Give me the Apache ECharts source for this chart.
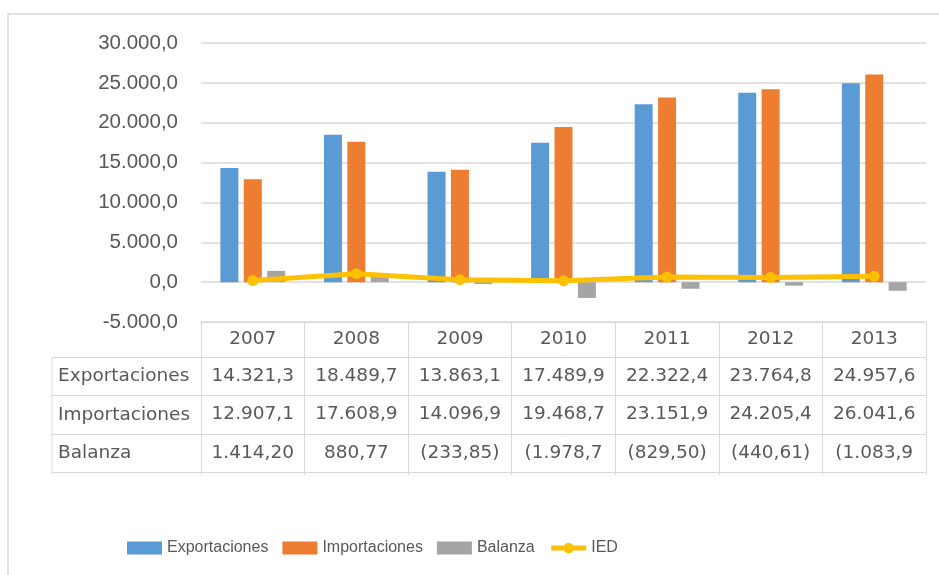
<!DOCTYPE html>
<html>
<head>
<meta charset="utf-8">
<script src="https://cdn.jsdelivr.net/npm/echarts@6/dist/echarts.min.js"></script>
<style>html,body{margin:0;padding:0;background:#fff}#c{width:939px;height:575px}</style>
</head>
<body>
<div id="c"></div>
<script>
const categories = ['2007', '2008', '2009', '2010', '2011', '2012', '2013'];
const exportaciones = [14321.3, 18489.7, 13863.1, 17489.9, 22322.4, 23764.8, 24957.6];
const importaciones = [12907.1, 17608.9, 14096.9, 19468.7, 23151.9, 24205.4, 26041.6];
const balanza = [1414.2, 880.77, -233.85, -1978.8, -829.5, -440.61, -1084.0];
const balanzaLabels = ['1.414,20', '880,77', '(233,85)', '(1.978,7', '(829,50)', '(440,61)', '(1.083,9'];
const ied = [194, 1058, 308, 163, 644, 585, 725];
const rowNames = ['Exportaciones', 'Importaciones', 'Balanza'];
const seriesNames = ['Exportaciones', 'Importaciones', 'Balanza', 'IED'];
const yMin = -5000, yMax = 30000, yStep = 5000;

function fmt(v, d) {
  const neg = v < 0;
  const parts = Math.abs(v).toFixed(d).split('.');
  const int = parts[0].replace(/\B(?=(\d{3})+(?!\d))/g, '.');
  return (neg ? '-' : '') + int + (d > 0 ? ',' + parts[1] : '');
}

const expLabels = exportaciones.map(v => fmt(v, 1));
const impLabels = importaciones.map(v => fmt(v, 1));

const GRID = '#d9d9d9';
const TXT = '#595959';
const TFONT = 'DejaVu Sans';
const TSIZE = 18.5;

function tableAxis(offset, tickLen, labels, margin) {
  return {
    type: 'category', data: categories, position: 'bottom', offset: offset,
    axisLine: { show: true, onZero: false, lineStyle: { color: GRID, width: 1 } },
    axisTick: { show: true, length: tickLen, alignWithLabel: false, lineStyle: { color: GRID, width: 1 } },
    axisLabel: {
      show: !!labels, interval: 0, hideOverlap: false, margin: margin,
      formatter: (v, i) => labels ? labels[i] : '',
      fontFamily: TFONT, fontSize: TSIZE, color: TXT
    },
    splitLine: { show: false }
  };
}

const chart = echarts.init(document.getElementById('c'), null, { renderer: 'canvas' });

const L = 52, gl = 201, gr = 926;
const rowY = [357, 395, 434, 472];

const option = {
  animation: false,
  backgroundColor: '#fff',
  grid: { left: gl, right: 939 - gr, top: 43, bottom: 575 - 322 },
  legend: {
    left: 122, top: 535, itemWidth: 35, itemHeight: 13, itemGap: 14,
    data: [
      { name: seriesNames[0], icon: 'rect' },
      { name: seriesNames[1], icon: 'rect' },
      { name: seriesNames[2], icon: 'rect' },
      { name: seriesNames[3], lineStyle: { width: 5 } }
    ],
    textStyle: { fontFamily: 'Liberation Sans', fontSize: 16, color: TXT }
  },
  xAxis: [
    tableAxis(0, 35, categories, 8),
    tableAxis(35, 38, expLabels, 10),
    tableAxis(73, 39, impLabels, 10),
    tableAxis(112, 38, balanzaLabels, 10),
    tableAxis(150, 3, null, 0)
  ],
  yAxis: {
    type: 'value', min: yMin, max: yMax, interval: yStep,
    axisLine: { show: false }, axisTick: { show: false },
    axisLabel: { margin: 23, formatter: v => fmt(v, 1), fontFamily: 'Liberation Sans', fontSize: 20.5, color: TXT },
    splitLine: { lineStyle: { color: GRID, width: 1.5 } }
  },
  series: [
    { name: 'Exportaciones', type: 'bar', data: exportaciones, barWidth: 18, barGap: '30%', itemStyle: { color: '#5B9BD5' } },
    { name: 'Importaciones', type: 'bar', data: importaciones, barWidth: 18, barGap: '30%', itemStyle: { color: '#ED7D31' } },
    { name: 'Balanza', type: 'bar', data: balanza, barWidth: 18, barGap: '30%', itemStyle: { color: '#A5A5A5' } },
    { name: 'IED', type: 'line', data: ied, z: 5, symbol: 'circle', symbolSize: 11,
      lineStyle: { color: '#FFC000', width: 5 }, itemStyle: { color: '#FFC000' } }
  ],
  graphic: [
    { type: 'polyline', shape: { points: [[8, 575], [8, 14], [939, 14]] }, style: { stroke: GRID, lineWidth: 1.5, fill: null } },
    { type: 'line', shape: { x1: L, y1: rowY[0], x2: L, y2: rowY[3] + 2 }, style: { stroke: GRID, lineWidth: 1 } }
  ].concat(rowY.map(y => ({ type: 'line', shape: { x1: L, y1: y + 0.5, x2: gl, y2: y + 0.5 }, style: { stroke: GRID, lineWidth: 1 } })))
   .concat(rowNames.map((n, i) => ({
     type: 'text', left: L + 6, top: (rowY[i] + rowY[i + 1]) / 2 - 9,
     style: { text: n, fontFamily: TFONT, fontSize: TSIZE, fill: TXT }
   })))
};
chart.setOption(option);
</script>
</body>
</html>
